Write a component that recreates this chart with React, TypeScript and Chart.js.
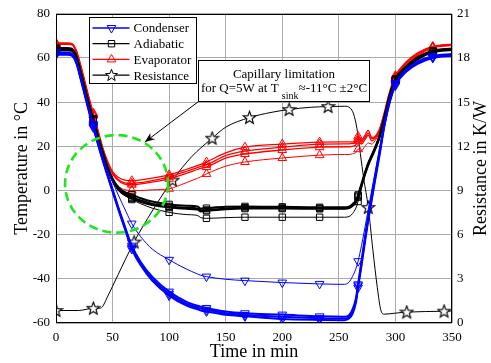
import React, { useEffect, useRef } from "react";
import { Chart, registerables } from "chart.js";
Chart.register(...registerables);

// ---------- data ----------
const TIME = [0, 10, 14, 18, 22, 26, 30, 33, 37, 41, 45, 50, 55, 60, 67, 75, 85, 100, 115, 125, 128, 133, 150, 167, 200, 233, 255, 259, 262, 265, 267, 270, 273, 276, 279, 282, 286, 290, 295, 300, 310, 320, 333, 350];
const MARK_T = [0, 33, 67, 100, 133, 167, 200, 233, 267, 300, 333];

const COND_A = [62.5, 62.5, 62.0, 58.5, 51, 43, 35, 29.5, 22, 15, 8.5, 0.5, -7.5, -15, -25, -32.5, -39, -45.8, -50.3, -52.2, -52.6, -53.2, -54.8, -55.6, -56.2, -57.0, -57.2, -56.5, -54, -49, -42.5, -32, -21.5, -11.5, -2.5, 6.5, 18, 29.5, 41, 48.5, 55, 58.5, 60.8, 61.8];
const COND_B = [62.0, 62.0, 61.5, 58, 50.5, 42.5, 34.5, 29, 21.5, 14.5, 8, 0, -8, -15.5, -25.8, -33.3, -40, -46.8, -51.2, -53, -53.5, -54, -55.6, -56.4, -57.2, -57.8, -58, -57.3, -55, -50, -43, -33, -22.5, -12.5, -3.5, 5.5, 17, 29, 40.5, 48, 54.5, 58, 60.4, 61.4];
const COND_C = [61.5, 61.5, 61, 57.5, 50, 42, 34, 28.5, 21, 14, 7.5, -0.5, -8.5, -16, -26.5, -34, -40.8, -47.6, -52, -53.8, -54.3, -54.8, -56.3, -57, -58.2, -58.6, -58.7, -58, -56, -51, -44, -34, -23.5, -13.5, -4.5, 4.5, 16, 28.5, 40, 47.5, 54, 57.5, 60, 61];
const COND_D = [62.5, 62.5, 62, 58.5, 51, 43, 35, 30, 23, 16, 10, 4, -2, -7.5, -15, -21, -26.5, -31.4, -35.5, -37.8, -38.4, -39, -40.2, -40.8, -41.7, -42.3, -42.5, -41.5, -39, -35.5, -32, -25, -17, -8.5, 0, 8, 19, 29.5, 41, 48.5, 54.5, 58, 60.5, 61.5];

const ADIA_A = [64.5, 64.5, 64.2, 61, 53.5, 45.5, 37.5, 32.5, 25, 18, 11.5, 5.5, 1.5, -0.5, -1.9, -3.5, -5, -6.3, -6.9, -7.2, -8.2, -8, -7.4, -7.2, -7.4, -7.6, -7.6, -7.3, -6.2, -4.5, -2, 3, 8, 12.5, 16, 19.5, 25, 33, 43.5, 50.5, 56.5, 60.5, 63.3, 64.3];
const ADIA_B = [64, 64, 63.7, 60.5, 53, 45, 37, 32, 24.5, 17.5, 11, 5, 1, -1.2, -3, -4.5, -6, -7.2, -7.8, -8.1, -9, -8.8, -8.1, -7.8, -7.9, -8, -8, -7.7, -6.6, -5, -2.5, 2.5, 7.5, 12, 15.5, 19, 24.5, 32.5, 43, 50, 56, 60, 63, 64];
const ADIA_C = [63.5, 63.5, 63.2, 60, 52.5, 44.5, 36.5, 31.5, 24, 17, 10.5, 4.5, 0.5, -1.8, -3.6, -5.2, -6.6, -7.7, -8.3, -8.6, -9.5, -9.2, -8.5, -8.2, -8.2, -8.3, -8.3, -8, -7, -5.5, -3, 2, 7, 11.5, 15, 18.5, 24, 32, 42.5, 49.5, 55.5, 59.5, 62.6, 63.6];
const ADIA_D = [64, 64, 63.7, 60.5, 53, 45, 37, 32, 24, 17, 10.5, 4, 0, -2, -4.1, -6, -8, -9.9, -10.9, -11.3, -12.3, -12.6, -12.3, -12.1, -12.1, -12.1, -12.1, -11.8, -10.5, -8, -5, 1, 7, 12, 15.5, 19, 24.5, 32.5, 43, 50, 56, 60, 63, 64];

const EVAP_A = [66.8, 66.8, 66.5, 63.5, 56.5, 48.5, 40.5, 35, 27.5, 20, 14, 8.5, 6, 4.8, 4.4, 4.8, 5.6, 7.1, 9.5, 11.3, 11.8, 12.9, 17, 19.6, 21, 21.9, 22, 22, 22, 22.5, 24.5, 22.8, 25, 27.2, 24, 24.5, 28, 35, 45, 52, 58.5, 62.5, 65.2, 66.3];
const EVAP_B = [66.5, 66.5, 66.2, 63, 56, 48, 40, 34.5, 27, 19.5, 13.5, 8, 5, 3.6, 3.2, 3.6, 4.5, 6.2, 8.6, 10.4, 10.9, 11.6, 15.8, 17.8, 19.6, 21, 21.1, 21.1, 21.3, 21.8, 23.5, 22, 24, 26, 23.5, 24, 27.5, 34.5, 44.5, 51.5, 58, 62, 65, 66];
const EVAP_C = [66.2, 66.2, 66, 62.5, 55.5, 47.5, 39.5, 34, 26.5, 19, 13, 7.5, 4.5, 3, 2.6, 3, 3.8, 5.3, 7.7, 9.5, 10, 10.6, 14.6, 16.5, 18.3, 19.6, 19.8, 19.8, 20, 20.6, 22.5, 21, 23, 25, 22.5, 23.5, 27, 34, 44, 51, 57.5, 61.5, 64.7, 65.8];
const EVAP_D = [66.2, 66.2, 66, 62.5, 55.5, 47.5, 39.5, 34, 26, 18, 11.5, 5.5, 2, 0.5, 0, 0, 0.3, 0.8, 3.5, 5.5, 6.2, 7.5, 11, 12.9, 14.7, 16, 16.3, 16.3, 16.6, 17.2, 18.7, 18, 20, 21.5, 21, 22.5, 26.5, 33.5, 43.5, 50.5, 57, 61, 64.5, 65.6];

const RES_TIME = [0, 20, 33, 38, 41, 45, 55, 69, 85, 103, 120, 138, 150, 171, 190, 206, 225, 240.5, 255, 260, 263, 266, 269, 272, 276, 280, 284, 287, 290, 300, 310, 343, 350];
const RES_VAL = [0.85, 0.85, 1.0, 1.0, 1.1, 1.7, 3.3, 5.5, 7.6, 9.7, 11.3, 12.55, 13.3, 13.95, 14.3, 14.5, 14.65, 14.7, 14.72, 14.6, 14.2, 13.2, 11.5, 9.8, 7.85, 5.0, 2.4, 0.9, 0.6, 0.67, 0.74, 0.8, 0.82];
const RES_MARK_T = [0, 33, 69, 103, 138, 171, 206, 240.5, 276, 310, 343];

const X_TICKS = { min: 0, max: 350, step: 50 };
const Y_TICKS = { min: -60, max: 80, step: 20 };
const Y2_TICKS = { min: 0, max: 21, step: 3 };

const LEGEND_LABELS = ["Condenser", "Adiabatic", "Evaporator", "Resistance"];
const NOTE_LINE1 = "Capillary limitation";
const NOTE_LINE2A = "for Q=5W at T";
const NOTE_SUB = "sink";
const NOTE_LINE2B = "\u2248-11\u00B0C \u00B12\u00B0C";
const X_TITLE = "Time in min";
const Y_TITLE = "Temperature in \u00B0C";
const Y2_TITLE = "Resistance in K/W";

// annotation geometry in data units (time, °C)
const CIRCLE = { t: 53.5, c: 3.0, rt: 45.5, rc: 22.1 };
const NOTE_BOX = { t0: 125.5, c0: 59.2, t1: 277, c1: 40.6 };
const ARROW_END = { t: 78.5, c: 21.9 };

const FONT = "'Liberation Serif', 'Times New Roman', serif";
const BLUE = "#0000ff";
const RED = "#ff0000";
const BLACK = "#000000";

function starPath(g: CanvasRenderingContext2D, cx: number, cy: number, R: number) {
  const r = R * 0.42;
  g.beginPath();
  for (let i = 0; i < 10; i++) {
    const a = -Math.PI / 2 + (i * Math.PI) / 5;
    const rad = i % 2 === 0 ? R : r;
    const px = cx + rad * Math.cos(a);
    const py = cy + rad * Math.sin(a);
    if (i === 0) g.moveTo(px, py);
    else g.lineTo(px, py);
  }
  g.closePath();
}

function makeStar(): HTMLCanvasElement {
  const c = document.createElement("canvas");
  c.width = 15;
  c.height = 15;
  const g = c.getContext("2d")!;
  starPath(g, 7.5, 7.9, 6.6);
  g.fillStyle = "#ffffff";
  g.fill();
  g.strokeStyle = BLACK;
  g.lineWidth = 1.1;
  g.stroke();
  return c;
}

function tempSet(label: string, values: number[], color: string, width: number, style: string, rotation: number, radius: number) {
  return {
    label,
    data: TIME.map((t, i) => ({ x: t, y: values[i] })),
    yAxisID: "y",
    borderColor: color,
    borderWidth: width,
    pointStyle: style,
    pointRotation: rotation,
    pointRadius: TIME.map((t) => (MARK_T.includes(t) ? radius : 0)),
    pointBorderColor: color,
    pointBackgroundColor: "rgba(0,0,0,0)",
    pointBorderWidth: 1,
    cubicInterpolationMode: "monotone",
    fill: false,
  };
}

function drawMarker(g: CanvasRenderingContext2D, kind: string, x: number, y: number, color: string) {
  g.save();
  g.strokeStyle = color;
  g.lineWidth = 1;
  g.beginPath();
  if (kind === "down") {
    const r = 5;
    g.moveTo(x, y + r);
    g.lineTo(x - r * 0.866, y - r * 0.5);
    g.lineTo(x + r * 0.866, y - r * 0.5);
    g.closePath();
  } else if (kind === "up") {
    const r = 5;
    g.moveTo(x, y - r);
    g.lineTo(x - r * 0.866, y + r * 0.5);
    g.lineTo(x + r * 0.866, y + r * 0.5);
    g.closePath();
  } else if (kind === "rect") {
    g.rect(x - 3.2, y - 3.2, 6.4, 6.4);
  } else {
    starPath(g, x, y + 0.4, 6.2);
    g.fillStyle = "#ffffff";
    g.fill();
  }
  g.stroke();
  g.restore();
}

const overlayPlugin = {
  id: "overlay",
  afterDatasetsDraw(chart: any) {
    const { ctx, chartArea, scales } = chart;
    const { left, top, right, bottom } = chartArea;
    const x = scales.x;
    const y = scales.y;
    ctx.save();

    // green dashed circle
    const cx = x.getPixelForValue(CIRCLE.t);
    const cy = y.getPixelForValue(CIRCLE.c);
    const rx = x.getPixelForValue(CIRCLE.t + CIRCLE.rt) - cx;
    const ry = cy - y.getPixelForValue(CIRCLE.c + CIRCLE.rc);
    ctx.setLineDash([9, 5]);
    ctx.strokeStyle = "rgb(30,230,30)";
    ctx.lineWidth = 2.6;
    ctx.beginPath();
    ctx.ellipse(cx, cy, rx, ry, 0, 0, Math.PI * 2);
    ctx.stroke();
    ctx.setLineDash([]);

    // frame
    ctx.strokeStyle = BLACK;
    ctx.lineWidth = 1;
    ctx.strokeRect(Math.round(left) + 0.5, Math.round(top) + 0.5, Math.round(right - left) - 1, Math.round(bottom - top) - 1);

    // note box
    const bx0 = Math.round(x.getPixelForValue(NOTE_BOX.t0)) + 0.5;
    const by0 = Math.round(y.getPixelForValue(NOTE_BOX.c0)) + 0.5;
    const bx1 = Math.round(x.getPixelForValue(NOTE_BOX.t1)) + 0.5;
    const by1 = Math.round(y.getPixelForValue(NOTE_BOX.c1)) + 0.5;
    ctx.fillStyle = "#ffffff";
    ctx.fillRect(bx0, by0, bx1 - bx0, by1 - by0);
    ctx.strokeRect(bx0, by0, bx1 - bx0, by1 - by0);
    ctx.fillStyle = BLACK;
    const mainF = `13px ${FONT}`;
    const subF = `10px ${FONT}`;
    ctx.font = mainF;
    ctx.textBaseline = "alphabetic";
    ctx.textAlign = "left";
    const mid = (bx0 + bx1) / 2;
    const w1 = ctx.measureText(NOTE_LINE1).width;
    ctx.fillText(NOTE_LINE1, mid - w1 / 2, by0 + 17);
    const wa = ctx.measureText(NOTE_LINE2A + " ").width;
    ctx.font = subF;
    const ws = ctx.measureText(NOTE_SUB).width;
    ctx.font = mainF;
    const wb = ctx.measureText(NOTE_LINE2B).width;
    let sx = mid - (wa + ws + wb) / 2;
    const base2 = by0 + 31;
    ctx.fillText(NOTE_LINE2A, sx, base2);
    sx += wa;
    ctx.font = subF;
    ctx.fillText(NOTE_SUB, sx, base2 + 7);
    sx += ws;
    ctx.font = mainF;
    ctx.fillText(NOTE_LINE2B, sx, base2);

    // arrow
    const ax0 = bx0;
    const ay0 = by1;
    const ax1 = x.getPixelForValue(ARROW_END.t);
    const ay1 = y.getPixelForValue(ARROW_END.c);
    ctx.strokeStyle = BLACK;
    ctx.lineWidth = 1;
    ctx.beginPath();
    ctx.moveTo(ax0, ay0);
    ctx.lineTo(ax1, ay1);
    ctx.stroke();
    const ang = Math.atan2(ay1 - ay0, ax1 - ax0);
    const hl = 10;
    const hw = 4;
    ctx.beginPath();
    ctx.moveTo(ax1, ay1);
    ctx.lineTo(ax1 - hl * Math.cos(ang) + hw * Math.sin(ang), ay1 - hl * Math.sin(ang) - hw * Math.cos(ang));
    ctx.lineTo(ax1 - hl * 0.7 * Math.cos(ang), ay1 - hl * 0.7 * Math.sin(ang));
    ctx.lineTo(ax1 - hl * Math.cos(ang) - hw * Math.sin(ang), ay1 - hl * Math.sin(ang) + hw * Math.cos(ang));
    ctx.closePath();
    ctx.fillStyle = BLACK;
    ctx.fill();

    // legend
    const lx0 = Math.round(left) + 33.5;
    const ly0 = Math.round(top) + 3.5;
    const lw = 107;
    const lh = 66;
    ctx.fillStyle = "#ffffff";
    ctx.fillRect(lx0, ly0, lw, lh);
    ctx.strokeStyle = BLACK;
    ctx.strokeRect(lx0, ly0, lw, lh);
    const entries = [
      { color: BLUE, kind: "down" },
      { color: BLACK, kind: "rect" },
      { color: RED, kind: "up" },
      { color: BLACK, kind: "star" },
    ];
    ctx.font = `13px ${FONT}`;
    ctx.textBaseline = "middle";
    entries.forEach((e, i) => {
      const ey = ly0 + 10.5 + i * 15.7;
      ctx.strokeStyle = e.color;
      ctx.lineWidth = 1.3;
      ctx.beginPath();
      ctx.moveTo(lx0 + 3, ey);
      ctx.lineTo(lx0 + 40, ey);
      ctx.stroke();
      drawMarker(ctx, e.kind, lx0 + 22, ey, e.color);
      ctx.fillStyle = BLACK;
      ctx.fillText(LEGEND_LABELS[i], lx0 + 44, ey + 1);
    });

    // right axis title
    ctx.save();
    ctx.translate(481.5, (top + bottom) / 2);
    ctx.rotate(-Math.PI / 2);
    ctx.font = `18px ${FONT}`;
    ctx.textAlign = "center";
    ctx.textBaseline = "middle";
    ctx.fillStyle = BLACK;
    ctx.fillText(Y2_TITLE, 0, 0);
    ctx.restore();

    ctx.restore();
  },
};

export default function App() {
  const ref = useRef<HTMLCanvasElement | null>(null);
  useEffect(() => {
    if (!ref.current) return;
    const star = makeStar();
    const datasets: any[] = [
      tempSet("Condenser", COND_A, BLUE, 2, "triangle", 180, 5),
      tempSet("Condenser", COND_B, BLUE, 2, "triangle", 180, 5),
      tempSet("Condenser", COND_C, BLUE, 2, "triangle", 180, 5),
      tempSet("Condenser", COND_D, BLUE, 1, "triangle", 180, 5),
      tempSet("Adiabatic", ADIA_A, BLACK, 2, "rect", 0, 4.5),
      tempSet("Adiabatic", ADIA_B, BLACK, 2, "rect", 0, 4.5),
      tempSet("Adiabatic", ADIA_C, BLACK, 2, "rect", 0, 4.5),
      tempSet("Adiabatic", ADIA_D, BLACK, 1, "rect", 0, 4.5),
      tempSet("Evaporator", EVAP_A, RED, 1.3, "triangle", 0, 5),
      tempSet("Evaporator", EVAP_B, RED, 1.3, "triangle", 0, 5),
      tempSet("Evaporator", EVAP_C, RED, 1.3, "triangle", 0, 5),
      tempSet("Evaporator", EVAP_D, RED, 1, "triangle", 0, 5),
      {
        label: "Resistance",
        data: RES_TIME.map((t, i) => ({ x: t, y: RES_VAL[i] })),
        yAxisID: "y1",
        borderColor: BLACK,
        borderWidth: 1,
        pointStyle: star,
        pointRadius: RES_TIME.map((t) => (RES_MARK_T.includes(t) ? 7 : 0)),
        cubicInterpolationMode: "monotone",
        fill: false,
      },
    ];
    const tickFont = { family: FONT, size: 13 };
    const chart = new Chart(ref.current, {
      type: "line",
      data: { datasets },
      plugins: [overlayPlugin],
      options: {
        responsive: false,
        animation: false,
        events: [],
        layout: { padding: { top: 10, left: 0, right: 0, bottom: 0 } },
        plugins: { legend: { display: false }, tooltip: { enabled: false } },
        scales: {
          x: {
            type: "linear",
            min: X_TICKS.min,
            max: X_TICKS.max,
            ticks: { stepSize: X_TICKS.step, font: tickFont, color: BLACK, padding: 7 },
            grid: { color: "#ababab", drawTicks: false },
            border: { display: false },
            title: { display: true, text: X_TITLE, font: { family: FONT, size: 18 }, color: BLACK, padding: { top: 0, bottom: 0 } },
            afterFit: (s: any) => {
              s.height = 40;
            },
          },
          y: {
            type: "linear",
            position: "left",
            min: Y_TICKS.min,
            max: Y_TICKS.max,
            ticks: { stepSize: Y_TICKS.step, font: tickFont, color: BLACK, padding: 6 },
            grid: { color: "#ababab", drawTicks: false },
            border: { display: false },
            title: { display: true, text: Y_TITLE, font: { family: FONT, size: 18 }, color: BLACK, padding: { top: 11, bottom: 0 } },
            afterFit: (s: any) => {
              s.width = 56;
            },
          },
          y1: {
            type: "linear",
            position: "right",
            min: Y2_TICKS.min,
            max: Y2_TICKS.max,
            ticks: { stepSize: Y2_TICKS.step, font: tickFont, color: BLACK, padding: 5 },
            grid: { display: false, drawTicks: false },
            border: { display: false },
            afterFit: (s: any) => {
              s.width = 39;
            },
          },
        },
      },
    } as any);
    return () => chart.destroy();
  }, []);
  return (
    <div style={{ position: "absolute", left: 0, top: 0, width: 491, height: 363, background: "#fff" }}>
      <canvas ref={ref} width={491} height={363} style={{ display: "block", width: 491, height: 363 }} />
    </div>
  );
}
